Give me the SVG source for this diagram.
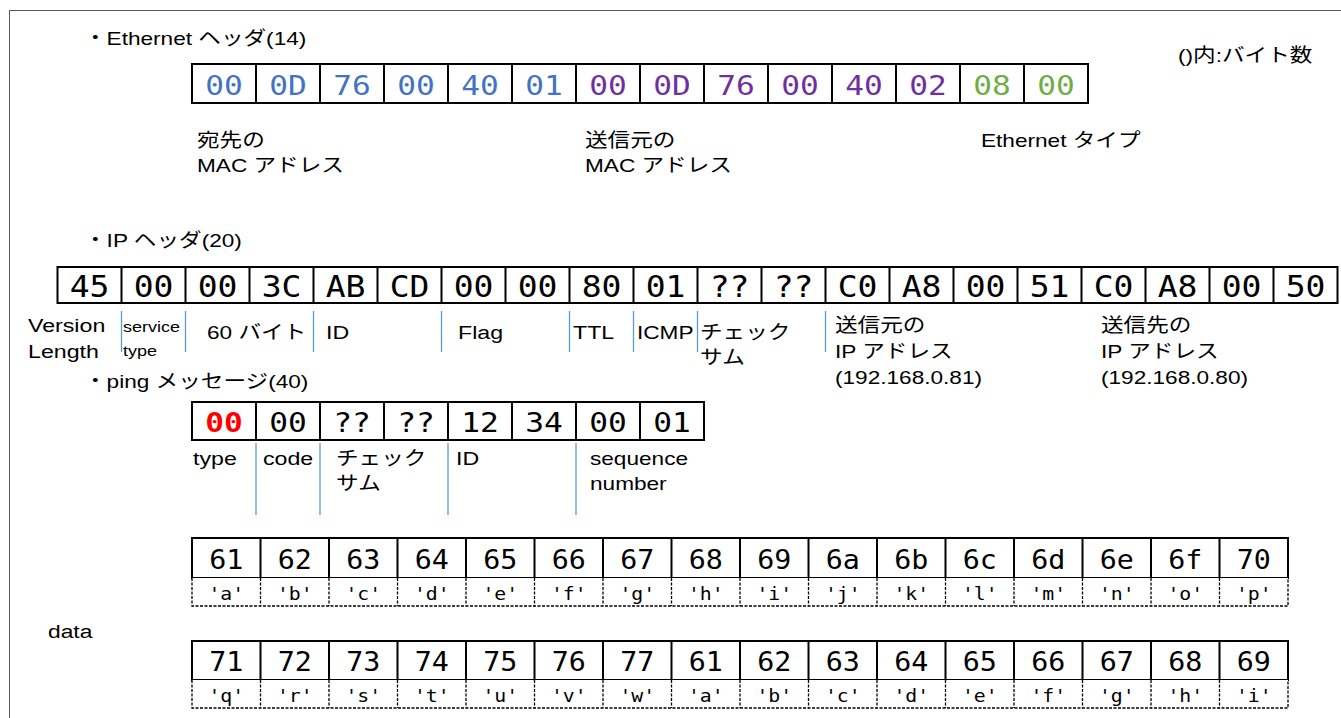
<svg xmlns="http://www.w3.org/2000/svg" width="1341" height="718" viewBox="0 0 1341 718">
<style>
.t{font-family:"Liberation Sans","Noto Sans CJK JP",sans-serif;font-size:19px;fill:#000}
.s{font-family:"Liberation Sans","Noto Sans CJK JP",sans-serif;font-size:15px;fill:#000}
.m{font-family:"DejaVu Sans Mono","Liberation Mono",monospace;text-anchor:middle;fill:#000}
.e{font-size:26px}
.ip{font-size:30px}
.d{font-size:27px}
.c{font-size:18px}
.blue{fill:#4472C4}.pur{fill:#7030A0}.grn{fill:#70AD47}.red{fill:#FF0000}
.cell{fill:#fff;stroke:#000;stroke-width:2}
.dash{fill:#fff;stroke:#000;stroke-width:1.3;stroke-dasharray:3 1.5}
.sep{stroke:#5B9BD5;stroke-width:1.3}
</style>
<rect x="9.5" y="10.5" width="1345" height="720" fill="#fff" stroke="#595959" stroke-width="1"/>

<g id="legend">
<text class="t" transform="translate(1178,62) scale(1.19,1)">()内:バイト数</text>
</g>

<g id="eth-header">
<text class="t" transform="translate(84,45) scale(1.19,1)">・Ethernet ヘッダ(14)</text>
<rect class="cell" x="192" y="64" width="896" height="39"/>
<path d="M256 64v39M320 64v39M384 64v39M448 64v39M512 64v39M576 64v39M640 64v39M704 64v39M768 64v39M832 64v39M896 64v39M960 64v39M1024 64v39" stroke="#000" stroke-width="2"/>
<g class="m e">
<text class="blue" transform="translate(224,95) scale(1.2,1)">00</text>
<text class="blue" transform="translate(288,95) scale(1.2,1)">0D</text>
<text class="blue" transform="translate(352,95) scale(1.2,1)">76</text>
<text class="blue" transform="translate(416,95) scale(1.2,1)">00</text>
<text class="blue" transform="translate(480,95) scale(1.2,1)">40</text>
<text class="blue" transform="translate(544,95) scale(1.2,1)">01</text>
<text class="pur" transform="translate(608,95) scale(1.2,1)">00</text>
<text class="pur" transform="translate(672,95) scale(1.2,1)">0D</text>
<text class="pur" transform="translate(736,95) scale(1.2,1)">76</text>
<text class="pur" transform="translate(800,95) scale(1.2,1)">00</text>
<text class="pur" transform="translate(864,95) scale(1.2,1)">40</text>
<text class="pur" transform="translate(928,95) scale(1.2,1)">02</text>
<text class="grn" transform="translate(992,95) scale(1.2,1)">08</text>
<text class="grn" transform="translate(1056,95) scale(1.2,1)">00</text>
</g>
<text class="t" transform="translate(197,147) scale(1.19,1)">宛先の</text>
<text class="t" transform="translate(197,172) scale(1.19,1)">MAC アドレス</text>
<text class="t" transform="translate(585,147) scale(1.19,1)">送信元の</text>
<text class="t" transform="translate(585,172) scale(1.19,1)">MAC アドレス</text>
<text class="t" transform="translate(981,147) scale(1.19,1)">Ethernet タイプ</text>
</g>

<g id="ip-header">
<text class="t" transform="translate(84,247) scale(1.19,1)">・IP ヘッダ(20)</text>
<rect class="cell" x="57.5" y="267" width="1280" height="36"/>
<path d="M121.5 267v36M185.5 267v36M249.5 267v36M313.5 267v36M377.5 267v36M441.5 267v36M505.5 267v36M569.5 267v36M633.5 267v36M697.5 267v36M761.5 267v36M825.5 267v36M889.5 267v36M953.5 267v36M1017.5 267v36M1081.5 267v36M1145.5 267v36M1209.5 267v36M1273.5 267v36" stroke="#000" stroke-width="2"/>
<g class="m ip">
<text transform="translate(89.5,297) scale(1.1,1)">45</text>
<text transform="translate(153.5,297) scale(1.1,1)">00</text>
<text transform="translate(217.5,297) scale(1.1,1)">00</text>
<text transform="translate(281.5,297) scale(1.1,1)">3C</text>
<text transform="translate(345.5,297) scale(1.1,1)">AB</text>
<text transform="translate(409.5,297) scale(1.1,1)">CD</text>
<text transform="translate(473.5,297) scale(1.1,1)">00</text>
<text transform="translate(537.5,297) scale(1.1,1)">00</text>
<text transform="translate(601.5,297) scale(1.1,1)">80</text>
<text transform="translate(665.5,297) scale(1.1,1)">01</text>
<text transform="translate(729.5,297) scale(1.1,1)">??</text>
<text transform="translate(793.5,297) scale(1.1,1)">??</text>
<text transform="translate(857.5,297) scale(1.1,1)">C0</text>
<text transform="translate(921.5,297) scale(1.1,1)">A8</text>
<text transform="translate(985.5,297) scale(1.1,1)">00</text>
<text transform="translate(1049.5,297) scale(1.1,1)">51</text>
<text transform="translate(1113.5,297) scale(1.1,1)">C0</text>
<text transform="translate(1177.5,297) scale(1.1,1)">A8</text>
<text transform="translate(1241.5,297) scale(1.1,1)">00</text>
<text transform="translate(1305.5,297) scale(1.1,1)">50</text>
</g>
<text class="t" transform="translate(28,332) scale(1.22,1)">Version</text>
<text class="t" transform="translate(28,358) scale(1.22,1)">Length</text>
<text class="s" transform="translate(123,332) scale(1.2,1)">service</text>
<text class="s" transform="translate(123,356) scale(1.2,1)">type</text>
<text class="t" transform="translate(207,339) scale(1.19,1)">60 バイト</text>
<text class="t" transform="translate(326,339) scale(1.22,1)">ID</text>
<text class="t" transform="translate(458,339) scale(1.22,1)">Flag</text>
<text class="t" transform="translate(573,339) scale(1.22,1)">TTL</text>
<text class="t" transform="translate(637,339) scale(1.19,1)">ICMP</text>
<text class="t" transform="translate(700,339) scale(1.19,1)">チェック</text>
<text class="t" transform="translate(700,364) scale(1.19,1)">サム</text>
<text class="t" transform="translate(835,332) scale(1.19,1)">送信元の</text>
<text class="t" transform="translate(835,358) scale(1.19,1)">IP アドレス</text>
<text class="t" transform="translate(835,384) scale(1.19,1)">(192.168.0.81)</text>
<text class="t" transform="translate(1101,332) scale(1.19,1)">送信先の</text>
<text class="t" transform="translate(1101,358) scale(1.19,1)">IP アドレス</text>
<text class="t" transform="translate(1101,384) scale(1.19,1)">(192.168.0.80)</text>
</g>

<g id="ping-message">
<text class="t" transform="translate(84,388) scale(1.19,1)">・ping メッセージ(40)</text>
<rect class="cell" x="192" y="402" width="512" height="38"/>
<path d="M256 402v38M320 402v38M384 402v38M448 402v38M512 402v38M576 402v38M640 402v38" stroke="#000" stroke-width="2"/>
<g class="m e">
<text class="red" font-weight="bold" transform="translate(224,432) scale(1.2,1)">00</text>
<text transform="translate(288,432) scale(1.2,1)">00</text>
<text transform="translate(352,432) scale(1.2,1)">??</text>
<text transform="translate(416,432) scale(1.2,1)">??</text>
<text transform="translate(480,432) scale(1.2,1)">12</text>
<text transform="translate(544,432) scale(1.2,1)">34</text>
<text transform="translate(608,432) scale(1.2,1)">00</text>
<text transform="translate(672,432) scale(1.2,1)">01</text>
</g>
<text class="t" transform="translate(193,465) scale(1.22,1)">type</text>
<text class="t" transform="translate(263,465) scale(1.22,1)">code</text>
<text class="t" transform="translate(336,465) scale(1.19,1)">チェック</text>
<text class="t" transform="translate(336,490) scale(1.19,1)">サム</text>
<text class="t" transform="translate(456,465) scale(1.22,1)">ID</text>
<text class="t" transform="translate(590,465) scale(1.19,1)">sequence</text>
<text class="t" transform="translate(590,490) scale(1.19,1)">number</text>
</g>

<g id="data">
<text class="t" transform="translate(48,638) scale(1.2,1)">data</text>
<rect class="cell" x="192" y="538" width="1096" height="40"/>
<path d="M260.5 538v40M329 538v40M397.5 538v40M466 538v40M534.5 538v40M603 538v40M671.5 538v40M740 538v40M808.5 538v40M877 538v40M945.5 538v40M1014 538v40M1082.5 538v40M1151 538v40M1219.5 538v40" stroke="#000" stroke-width="2"/>
<path class="dash" d="M192 578v28h1096v-28M260.5 578v28M329 578v28M397.5 578v28M466 578v28M534.5 578v28M603 578v28M671.5 578v28M740 578v28M808.5 578v28M877 578v28M945.5 578v28M1014 578v28M1082.5 578v28M1151 578v28M1219.5 578v28"/>
<rect class="cell" x="192" y="641" width="1096" height="39"/>
<path d="M260.5 641v39M329 641v39M397.5 641v39M466 641v39M534.5 641v39M603 641v39M671.5 641v39M740 641v39M808.5 641v39M877 641v39M945.5 641v39M1014 641v39M1082.5 641v39M1151 641v39M1219.5 641v39" stroke="#000" stroke-width="2"/>
<path class="dash" d="M192 680v28h1096v-28M260.5 680v28M329 680v28M397.5 680v28M466 680v28M534.5 680v28M603 680v28M671.5 680v28M740 680v28M808.5 680v28M877 680v28M945.5 680v28M1014 680v28M1082.5 680v28M1151 680v28M1219.5 680v28"/>
<g class="m d">
<text transform="translate(226.25,569) scale(1.05,1)">61</text>
<text transform="translate(294.75,569) scale(1.05,1)">62</text>
<text transform="translate(363.25,569) scale(1.05,1)">63</text>
<text transform="translate(431.75,569) scale(1.05,1)">64</text>
<text transform="translate(500.25,569) scale(1.05,1)">65</text>
<text transform="translate(568.75,569) scale(1.05,1)">66</text>
<text transform="translate(637.25,569) scale(1.05,1)">67</text>
<text transform="translate(705.75,569) scale(1.05,1)">68</text>
<text transform="translate(774.25,569) scale(1.05,1)">69</text>
<text transform="translate(842.75,569) scale(1.05,1)">6a</text>
<text transform="translate(911.25,569) scale(1.05,1)">6b</text>
<text transform="translate(979.75,569) scale(1.05,1)">6c</text>
<text transform="translate(1048.25,569) scale(1.05,1)">6d</text>
<text transform="translate(1116.75,569) scale(1.05,1)">6e</text>
<text transform="translate(1185.25,569) scale(1.05,1)">6f</text>
<text transform="translate(1253.75,569) scale(1.05,1)">70</text>
<text transform="translate(226.25,671) scale(1.05,1)">71</text>
<text transform="translate(294.75,671) scale(1.05,1)">72</text>
<text transform="translate(363.25,671) scale(1.05,1)">73</text>
<text transform="translate(431.75,671) scale(1.05,1)">74</text>
<text transform="translate(500.25,671) scale(1.05,1)">75</text>
<text transform="translate(568.75,671) scale(1.05,1)">76</text>
<text transform="translate(637.25,671) scale(1.05,1)">77</text>
<text transform="translate(705.75,671) scale(1.05,1)">61</text>
<text transform="translate(774.25,671) scale(1.05,1)">62</text>
<text transform="translate(842.75,671) scale(1.05,1)">63</text>
<text transform="translate(911.25,671) scale(1.05,1)">64</text>
<text transform="translate(979.75,671) scale(1.05,1)">65</text>
<text transform="translate(1048.25,671) scale(1.05,1)">66</text>
<text transform="translate(1116.75,671) scale(1.05,1)">67</text>
<text transform="translate(1185.25,671) scale(1.05,1)">68</text>
<text transform="translate(1253.75,671) scale(1.05,1)">69</text>
</g>
<g class="m c">
<text transform="translate(226.25,600) scale(1.1,1)">'a'</text>
<text transform="translate(294.75,600) scale(1.1,1)">'b'</text>
<text transform="translate(363.25,600) scale(1.1,1)">'c'</text>
<text transform="translate(431.75,600) scale(1.1,1)">'d'</text>
<text transform="translate(500.25,600) scale(1.1,1)">'e'</text>
<text transform="translate(568.75,600) scale(1.1,1)">'f'</text>
<text transform="translate(637.25,600) scale(1.1,1)">'g'</text>
<text transform="translate(705.75,600) scale(1.1,1)">'h'</text>
<text transform="translate(774.25,600) scale(1.1,1)">'i'</text>
<text transform="translate(842.75,600) scale(1.1,1)">'j'</text>
<text transform="translate(911.25,600) scale(1.1,1)">'k'</text>
<text transform="translate(979.75,600) scale(1.1,1)">'l'</text>
<text transform="translate(1048.25,600) scale(1.1,1)">'m'</text>
<text transform="translate(1116.75,600) scale(1.1,1)">'n'</text>
<text transform="translate(1185.25,600) scale(1.1,1)">'o'</text>
<text transform="translate(1253.75,600) scale(1.1,1)">'p'</text>
<text transform="translate(226.25,702) scale(1.1,1)">'q'</text>
<text transform="translate(294.75,702) scale(1.1,1)">'r'</text>
<text transform="translate(363.25,702) scale(1.1,1)">'s'</text>
<text transform="translate(431.75,702) scale(1.1,1)">'t'</text>
<text transform="translate(500.25,702) scale(1.1,1)">'u'</text>
<text transform="translate(568.75,702) scale(1.1,1)">'v'</text>
<text transform="translate(637.25,702) scale(1.1,1)">'w'</text>
<text transform="translate(705.75,702) scale(1.1,1)">'a'</text>
<text transform="translate(774.25,702) scale(1.1,1)">'b'</text>
<text transform="translate(842.75,702) scale(1.1,1)">'c'</text>
<text transform="translate(911.25,702) scale(1.1,1)">'d'</text>
<text transform="translate(979.75,702) scale(1.1,1)">'e'</text>
<text transform="translate(1048.25,702) scale(1.1,1)">'f'</text>
<text transform="translate(1116.75,702) scale(1.1,1)">'g'</text>
<text transform="translate(1185.25,702) scale(1.1,1)">'h'</text>
<text transform="translate(1253.75,702) scale(1.1,1)">'i'</text>
</g>
</g>

<g id="connectors">
<path class="sep" d="M121.5 311v41M185.5 311v41M313.5 311v41M441.5 311v41M569.5 311v41M633.5 311v41M697.5 311v41M825.5 311v41"/>
<path class="sep" d="M256 443v72M320 443v72M448 443v72M576 443v72"/>
</g>
</svg>
